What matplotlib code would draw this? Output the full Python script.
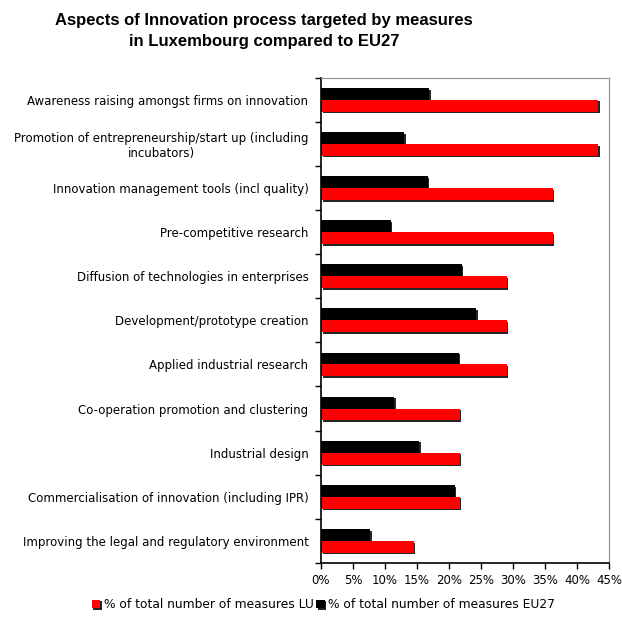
import numpy as np
import matplotlib
matplotlib.use("Agg")
import matplotlib.pyplot as plt
import matplotlib.patheffects as pe
from matplotlib.ticker import PercentFormatter

# aspects of the innovation process, top to bottom
categories = [
    "Awareness raising amongst firms on innovation",
    "Promotion of entrepreneurship/start up (including\nincubators)",
    "Innovation management tools (incl quality)",
    "Pre-competitive research",
    "Diffusion of technologies in enterprises",
    "Development/prototype creation",
    "Applied industrial research",
    "Co-operation promotion and clustering",
    "Industrial design",
    "Commercialisation of innovation (including IPR)",
    "Improving the legal and regulatory environment",
]
# share of total number of measures (%)
lu = [43.3, 43.3, 36.2, 36.2, 29.0, 29.0, 29.0, 21.7, 21.7, 21.7, 14.5]
eu27 = [16.9, 13.0, 16.7, 10.9, 22.0, 24.3, 21.5, 11.4, 15.3, 20.9, 7.7]
xticks = [0, 5, 10, 15, 20, 25, 30, 35, 40, 45]

label_lu = "% of total number of measures LU"
label_eu = "% of total number of measures EU27"

plt.rcParams['font.family'] = ['DejaVu Sans']

fig = plt.figure(figsize=(6.22, 6.22), dpi=100)
ax = fig.add_axes([0.516, 0.095, 0.463, 0.78])

y = np.arange(len(categories))
h = 0.27
shadow = [pe.SimplePatchShadow(offset=(1.2, -1.2), shadow_rgbFace='black', alpha=0.85), pe.Normal()]

b_eu = ax.barh(y - h / 2, eu27, height=h, color='black', label=label_eu)
b_lu = ax.barh(y + h / 2, lu, height=h, color='#ff0000', label=label_lu)
for bar in list(b_eu) + list(b_lu):
    bar.set_path_effects(shadow)

ax.set_ylim(len(categories) - 0.5, -0.5)
ax.set_xlim(0, 45)
ax.set_xticks(xticks)
ax.xaxis.set_major_formatter(PercentFormatter(decimals=0))

# category labels sit between the boundary ticks
ax.set_yticks(y)
ax.set_yticklabels(categories, fontsize=8.5, ha='right', multialignment='center')
ax.tick_params(axis='y', which='major', length=0, pad=9)
ax.set_yticks(np.arange(len(categories) + 1) - 0.5, minor=True)
ax.tick_params(axis='y', which='minor', length=4, width=1, direction='out', color='black')
ax.tick_params(axis='x', length=4, width=1, direction='out', labelsize=8.5, pad=4)

for side in ['top', 'right']:
    ax.spines[side].set_color('#8c8c8c')
for side in ['left', 'bottom']:
    ax.spines[side].set_color('black')
    ax.spines[side].set_linewidth(1.2)

fig.text(0.425, 0.95, "Aspects of Innovation process targeted by measures\nin Luxembourg compared to EU27",
         ha='center', va='center', fontsize=12, fontweight='bold',
         family=['Liberation Sans Narrow', 'Liberation Sans'], linespacing=1.55)

fig.legend([b_lu, b_eu], [label_lu, label_eu], loc='center', bbox_to_anchor=(0.52, 0.028),
           ncol=2, frameon=False, fontsize=8.8, handlelength=0.7, handleheight=0.7,
           handletextpad=0.3, columnspacing=0.2)

fig.savefig("out.png", dpi=100, facecolor='white')
